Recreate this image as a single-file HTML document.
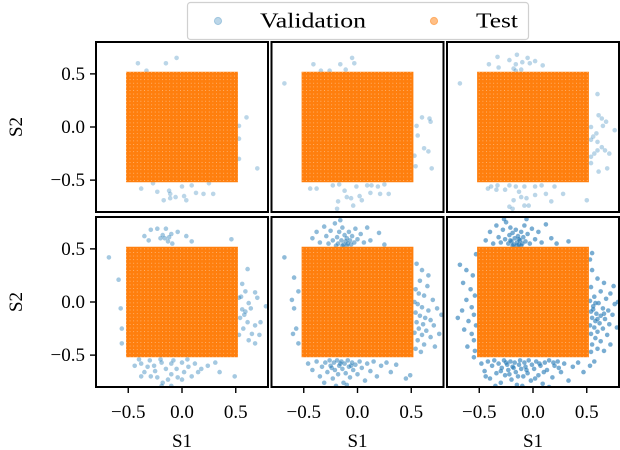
<!DOCTYPE html>
<html><head><meta charset="utf-8">
<style>
html,body{margin:0;padding:0;background:#fff;}
svg{display:block;font-family:"Liberation Serif",serif;}
</style></head>
<body>
<svg id="chart" width="620" height="450" viewBox="0 0 620 450" xmlns="http://www.w3.org/2000/svg">
<defs>
<pattern id="gridpat" x="0" y="0" width="3.6" height="3.6" patternUnits="userSpaceOnUse">
<rect width="3.6" height="3.6" fill="#ff7f0e"/>
<rect x="0" y="0" width="0.9" height="0.9" fill="#fff" opacity="0.45"/>
</pattern>
</defs>
<g id="panels"></g>
<g>
<rect x="187.5" y="2.5" width="341" height="37" rx="3" fill="#fff" stroke="#d0d0d0" stroke-width="1.2"/>
<g>
<circle cx="218" cy="21" r="3.6" fill="#1f77b4" fill-opacity="0.3" stroke="#1f77b4" stroke-opacity="0.3"/>
<text x="260" y="27.5" font-size="21" textLength="106" lengthAdjust="spacingAndGlyphs">Validation</text>
</g>
<g>
<circle cx="434" cy="21" r="3.6" fill="#ff7f0e" fill-opacity="0.5" stroke="#ff7f0e" stroke-opacity="0.5"/>
<text x="476" y="27.5" font-size="21" textLength="42" lengthAdjust="spacingAndGlyphs">Test</text>
</g>
</g>
</svg>
<script>
const xTicks=[-0.5,0.0,0.5];
const yTicks=[-0.5,0.0,0.5];
const tickLabels=["\u22120.5","0.0","0.5"];
const axisRange=[-0.8,0.8];
const testMin=[-0.52,-0.52,-0.52,-0.52,-0.52,-0.52];
const testMax=[0.52,0.52,0.52,0.52,0.52,0.52];
const val1=[[-0.41,0.60],[-0.15,0.60],[-0.05,0.65],[-0.33,0.53],[0.60,0.09],[0.53,0.01],[0.53,-0.11],[0.53,-0.30],[0.70,-0.39],[-0.38,-0.58],[-0.23,-0.61],[-0.12,-0.60],[-0.11,-0.63],[-0.17,-0.69],[-0.11,-0.67],[-0.06,-0.66],[0.02,-0.65],[0.04,-0.69],[0.09,-0.55],[0.13,-0.62],[0.20,-0.63],[0.29,-0.63],[0.25,-0.53],[-0.27,-0.53],[0.0,-0.56]];
const val2=[[-0.05,0.65],[-0.41,0.59],[-0.16,0.59],[-0.03,0.60],[-0.11,0.54],[-0.34,0.53],[-0.26,0.53],[-0.68,0.41],[0.60,0.09],[0.67,0.08],[0.68,0.05],[0.55,0.01],[0.56,-0.08],[0.62,-0.20],[0.66,-0.23],[0.53,-0.27],[0.54,-0.37],[0.69,-0.39],[-0.44,-0.58],[-0.38,-0.58],[-0.23,-0.55],[-0.17,-0.54],[-0.12,-0.60],[-0.06,-0.67],[-0.18,-0.70],[-0.10,-0.66],[0.02,-0.65],[0.04,-0.69],[-0.01,-0.56],[0.09,-0.55],[0.13,-0.55],[0.19,-0.56],[0.25,-0.54],[0.21,-0.63],[0.29,-0.63],[0.12,-0.62],[-0.04,-0.74],[-0.19,-0.77]];
const val3=[[-0.33,0.66],[-0.15,0.68],[-0.05,0.65],[-0.41,0.59],[-0.32,0.56],[-0.22,0.63],[-0.16,0.59],[-0.10,0.61],[-0.03,0.60],[0.02,0.62],[0.09,0.58],[-0.18,0.55],[-0.11,0.54],[-0.16,0.53],[-0.68,0.41],[0.60,0.31],[0.61,0.11],[0.64,0.08],[0.68,0.05],[0.65,0.01],[0.54,0.0],[0.59,-0.06],[0.56,-0.09],[0.76,-0.03],[0.60,-0.14],[0.54,-0.12],[0.64,-0.19],[0.60,-0.22],[0.57,-0.25],[0.71,-0.25],[0.67,-0.22],[0.54,-0.28],[0.69,-0.39],[0.61,-0.42],[0.54,-0.34],[-0.42,-0.58],[-0.34,-0.59],[-0.39,-0.56],[-0.33,-0.55],[-0.26,-0.59],[-0.22,-0.55],[-0.16,-0.56],[-0.13,-0.61],[-0.08,-0.56],[0.02,-0.56],[0.08,-0.55],[0.12,-0.63],[0.20,-0.56],[0.28,-0.63],[-0.11,-0.66],[-0.06,-0.67],[0.02,-0.64],[-0.18,-0.69],[-0.22,-0.75],[-0.19,-0.77],[-0.08,-0.74],[-0.04,-0.74],[0.17,-0.70],[0.50,-0.69]];
const val4=[[-0.35,0.62],[-0.29,0.68],[-0.23,0.69],[-0.15,0.69],[-0.10,0.64],[-0.04,0.66],[0.04,0.62],[-0.31,0.58],[-0.20,0.60],[-0.13,0.57],[-0.09,0.55],[-0.18,0.63],[0.09,0.57],[0.46,0.59],[-0.68,0.42],[-0.16,0.60],[-0.12,0.61],[0.61,0.31],[0.56,0.17],[0.59,0.10],[0.68,0.09],[0.53,0.04],[0.62,-0.01],[0.70,0.04],[0.56,-0.07],[0.59,-0.09],[0.64,-0.06],[0.78,-0.04],[0.54,-0.15],[0.61,-0.19],[0.68,-0.22],[0.73,-0.19],[0.57,-0.25],[0.65,-0.30],[0.53,-0.31],[0.72,-0.31],[0.62,-0.36],[0.68,-0.39],[0.55,0.05],[0.58,-0.12],[-0.59,0.21],[-0.57,-0.06],[-0.56,-0.25],[-0.56,-0.39],[-0.44,-0.60],[-0.38,-0.58],[-0.32,-0.61],[-0.26,-0.60],[-0.19,-0.57],[-0.15,-0.63],[-0.10,-0.58],[-0.05,-0.63],[0.0,-0.57],[0.06,-0.61],[0.12,-0.58],[0.18,-0.63],[0.24,-0.60],[0.31,-0.57],[-0.35,-0.66],[-0.29,-0.70],[-0.23,-0.71],[-0.18,-0.76],[-0.10,-0.68],[-0.04,-0.71],[0.02,-0.66],[0.09,-0.70],[0.15,-0.66],[-0.10,-0.79],[-0.19,-0.79],[-0.38,-0.70],[0.35,-0.66],[0.49,-0.70],[0.0,-0.73],[-0.13,-0.73],[-0.30,-0.55],[-0.20,-0.54],[-0.08,-0.55],[0.05,-0.54],[-0.25,-0.65],[-0.40,-0.54]];
const val5=[[-0.42,0.60],[-0.38,0.66],[-0.35,0.56],[-0.31,0.71],[-0.29,0.62],[-0.27,0.55],[-0.25,0.67],[-0.23,0.58],[-0.21,0.74],[-0.19,0.61],[-0.18,0.55],[-0.17,0.66],[-0.15,0.58],[-0.14,0.70],[-0.13,0.54],[-0.12,0.63],[-0.11,0.57],[-0.10,0.60],[-0.09,0.55],[-0.08,0.66],[-0.07,0.58],[-0.06,0.54],[-0.05,0.62],[-0.03,0.56],[-0.02,0.69],[0.0,0.59],[0.03,0.64],[0.06,0.56],[0.09,0.70],[-0.16,0.77],[-0.20,0.53],[-0.14,0.53],[-0.10,0.53],[0.12,0.58],[0.20,0.65],[0.25,0.54],
[0.55,0.36],[0.60,0.30],[0.58,0.20],[0.65,0.15],[0.54,0.12],[0.62,0.06],[0.70,0.02],[0.56,-0.02],[0.60,-0.05],[0.66,-0.08],[0.74,-0.06],[0.54,-0.10],[0.58,-0.13],[0.63,-0.15],[0.68,-0.17],[0.55,-0.19],[0.61,-0.21],[0.71,-0.22],[0.57,-0.25],[0.64,-0.27],[0.53,-0.29],[0.60,-0.31],[0.68,-0.33],[0.56,-0.36],[0.62,-0.40],[0.54,-0.44],[0.76,-0.30],[0.78,-0.12],[0.66,0.25],[0.59,-0.47],[0.72,-0.42],[0.53,0.0],[0.57,0.08],
[-0.46,-0.58],[-0.42,-0.64],[-0.38,-0.56],[-0.35,-0.70],[-0.33,-0.61],[-0.30,-0.57],[-0.28,-0.66],[-0.26,-0.55],[-0.25,-0.60],[-0.23,-0.72],[-0.22,-0.57],[-0.21,-0.64],[-0.19,-0.55],[-0.18,-0.68],[-0.17,-0.60],[-0.15,-0.56],[-0.14,-0.63],[-0.13,-0.76],[-0.12,-0.58],[-0.11,-0.67],[-0.09,-0.55],[-0.08,-0.61],[-0.07,-0.71],[-0.05,-0.57],[-0.04,-0.64],[-0.02,-0.59],[0.0,-0.68],[0.02,-0.56],[0.04,-0.62],[0.07,-0.74],[0.09,-0.58],[0.12,-0.65],[0.15,-0.56],[0.18,-0.70],[0.22,-0.60],[0.27,-0.57],[0.31,-0.66],[0.36,-0.59],[-0.20,-0.79],[-0.10,-0.78],[-0.31,-0.76],[0.45,-0.72],[0.49,-0.69],[-0.24,-0.62],[-0.16,-0.58],[-0.06,-0.60],
[-0.68,0.42],[-0.59,0.23],[-0.55,0.10],[-0.61,0.02],[-0.59,-0.06],[-0.57,-0.25],[-0.60,-0.30],[-0.55,-0.39]];
const val6=[[-0.44,0.58],[-0.40,0.66],[-0.37,0.55],[-0.34,0.72],[-0.32,0.61],[-0.30,0.56],[-0.28,0.68],[-0.26,0.59],[-0.25,0.75],[-0.23,0.55],[-0.22,0.63],[-0.21,0.70],[-0.20,0.57],[-0.19,0.65],[-0.18,0.54],[-0.17,0.60],[-0.16,0.68],[-0.15,0.56],[-0.14,0.62],[-0.13,0.54],[-0.12,0.58],[-0.11,0.66],[-0.10,0.55],[-0.09,0.61],[-0.08,0.72],[-0.07,0.57],[-0.05,0.64],[-0.03,0.55],[-0.01,0.69],[0.02,0.59],[0.05,0.66],[0.08,0.56],[0.12,0.73],[0.17,0.60],[0.22,0.55],[0.33,0.57],[-0.27,0.78],[-0.06,0.78],[-0.19,0.53],[-0.15,0.53],[-0.11,0.53],[-0.21,0.58],[-0.13,0.59],
[0.55,0.30],[0.60,0.22],[0.66,0.18],[0.54,0.14],[0.63,0.10],[0.72,0.08],[0.57,0.05],[0.68,0.03],[0.53,0.01],[0.61,-0.01],[0.76,-0.02],[0.56,-0.04],[0.65,-0.06],[0.70,-0.08],[0.54,-0.09],[0.59,-0.11],[0.63,-0.13],[0.74,-0.12],[0.55,-0.15],[0.67,-0.16],[0.58,-0.18],[0.62,-0.20],[0.71,-0.21],[0.53,-0.22],[0.57,-0.24],[0.65,-0.25],[0.78,-0.24],[0.60,-0.28],[0.54,-0.30],[0.69,-0.31],[0.58,-0.34],[0.63,-0.37],[0.55,-0.40],[0.72,-0.40],[0.60,-0.44],[0.54,-0.47],[0.66,-0.46],[0.79,0.0],[0.75,0.15],[0.56,-0.07],[0.60,-0.16],[0.66,-0.11],[0.58,-0.01],[0.53,0.40],[0.55,0.46],
[-0.48,-0.58],[-0.45,-0.65],[-0.42,-0.56],[-0.40,-0.72],[-0.38,-0.60],[-0.36,-0.55],[-0.34,-0.67],[-0.32,-0.58],[-0.30,-0.76],[-0.29,-0.62],[-0.27,-0.55],[-0.26,-0.69],[-0.24,-0.59],[-0.23,-0.64],[-0.21,-0.56],[-0.20,-0.73],[-0.19,-0.61],[-0.17,-0.57],[-0.16,-0.66],[-0.15,-0.78],[-0.13,-0.59],[-0.12,-0.55],[-0.11,-0.63],[-0.09,-0.70],[-0.08,-0.57],[-0.07,-0.61],[-0.05,-0.67],[-0.04,-0.55],[-0.02,-0.74],[-0.01,-0.59],[0.01,-0.63],[0.03,-0.56],[0.05,-0.69],[0.07,-0.60],[0.09,-0.77],[0.11,-0.57],[0.13,-0.64],[0.15,-0.55],[0.18,-0.71],[0.20,-0.60],[0.23,-0.56],[0.26,-0.66],[0.29,-0.58],[0.33,-0.74],[0.37,-0.61],[0.42,-0.57],[0.47,-0.66],[0.53,-0.60],[0.57,-0.56],[-0.35,-0.79],[-0.10,-0.79],[0.15,-0.80],[-0.22,-0.68],[-0.06,-0.64],[0.10,-0.66],[0.24,-0.62],[-0.30,-0.65],[-0.14,-0.70],[0.02,-0.72],[-0.18,-0.62],[0.06,-0.58],[-0.25,-0.57],[0.19,-0.57],[-0.44,-0.70],
[-0.68,0.35],[-0.62,0.30],[-0.56,0.25],[-0.65,0.18],[-0.58,0.12],[-0.54,0.06],[-0.62,0.02],[-0.57,-0.05],[-0.66,-0.08],[-0.55,-0.12],[-0.60,-0.18],[-0.53,-0.22],[-0.64,-0.26],[-0.57,-0.30],[-0.55,-0.36],[-0.61,-0.42],[-0.54,-0.46],[-0.70,-0.15],[-0.53,0.45],[-0.55,-0.52]];
const validation=[val1,val2,val3,val4,val5,val6];
const pointOpacity=[0.3,0.3,0.3,0.4,0.5,0.6];

const NS="http://www.w3.org/2000/svg";
const panelsG=document.getElementById('panels');
const panelLeft=[96,271.5,447];
const panelTop=[42,217];
const PW=172,PH=170;
function mk(tag,attrs,parent){const e=document.createElementNS(NS,tag);for(const k in attrs)e.setAttribute(k,attrs[k]);parent.appendChild(e);return e;}

for(let p=0;p<6;p++){
  const col=p%3,row=Math.floor(p/3);
  const x0=panelLeft[col],y0=panelTop[row];
  const sx=v=>x0+(v-axisRange[0])/(axisRange[1]-axisRange[0])*PW;
  const sy=v=>y0+(axisRange[1]-v)/(axisRange[1]-axisRange[0])*PH;
  const g=mk('g',{},panelsG);
  
  
  const cid='clip'+p;
  const cp=mk('clipPath',{id:cid},g);
  mk('rect',{x:x0,y:y0,width:PW,height:PH},cp);
  const bg=mk('rect',{x:x0,y:y0,width:PW,height:PH,fill:'#fff'},g);
  
  
  const pts=mk('g',{'clip-path':'url(#'+cid+')'},g);
  
  
  validation[p].forEach(d=>{
    const c=mk('circle',{cx:sx(d[0]).toFixed(1),cy:sy(d[1]).toFixed(1),r:2.3,fill:'#1f77b4','fill-opacity':pointOpacity[p]},pts);
    
    
  });
  const tr=mk('rect',{x:sx(testMin[p]),y:sy(testMax[p]),width:sx(testMax[p])-sx(testMin[p]),height:sy(testMin[p])-sy(testMax[p]),fill:'url(#gridpat)'},g);
  
  
  const fr=mk('rect',{x:x0,y:y0,width:PW,height:PH,fill:'none',stroke:'#000','stroke-width':2},g);
  
  
  if(col===0){
    yTicks.forEach((t,i)=>{
      const y=sy(t);
      const tk=mk('line',{x1:x0-6,x2:x0,y1:y,y2:y,stroke:'#000','stroke-width':1.4},g);
      
      
      const tl=mk('text',{x:x0-11,y:y+6,'font-size':19,'text-anchor':'end'},g);
      tl.textContent=tickLabels[i];
      
      
    });
    const yl=mk('text',{x:0,y:0,'font-size':19,'text-anchor':'middle',transform:'translate(22,'+(y0+PH/2)+') rotate(-90)'},g);
    yl.textContent='S2';
    
    
  }
  if(row===1){
    xTicks.forEach((t,i)=>{
      const x=sx(t);
      const tk=mk('line',{x1:x,x2:x,y1:y0+PH,y2:y0+PH+6,stroke:'#000','stroke-width':1.4},g);
      
      
      const tl=mk('text',{x:x,y:y0+PH+31,'font-size':19,'text-anchor':'middle'},g);
      tl.textContent=tickLabels[i];
      
      
    });
    const xl=mk('text',{x:x0+PW/2,y:447,'font-size':19,'text-anchor':'middle'},g);
    xl.textContent='S1';
    
    
  }
}
</script>
</body></html>
